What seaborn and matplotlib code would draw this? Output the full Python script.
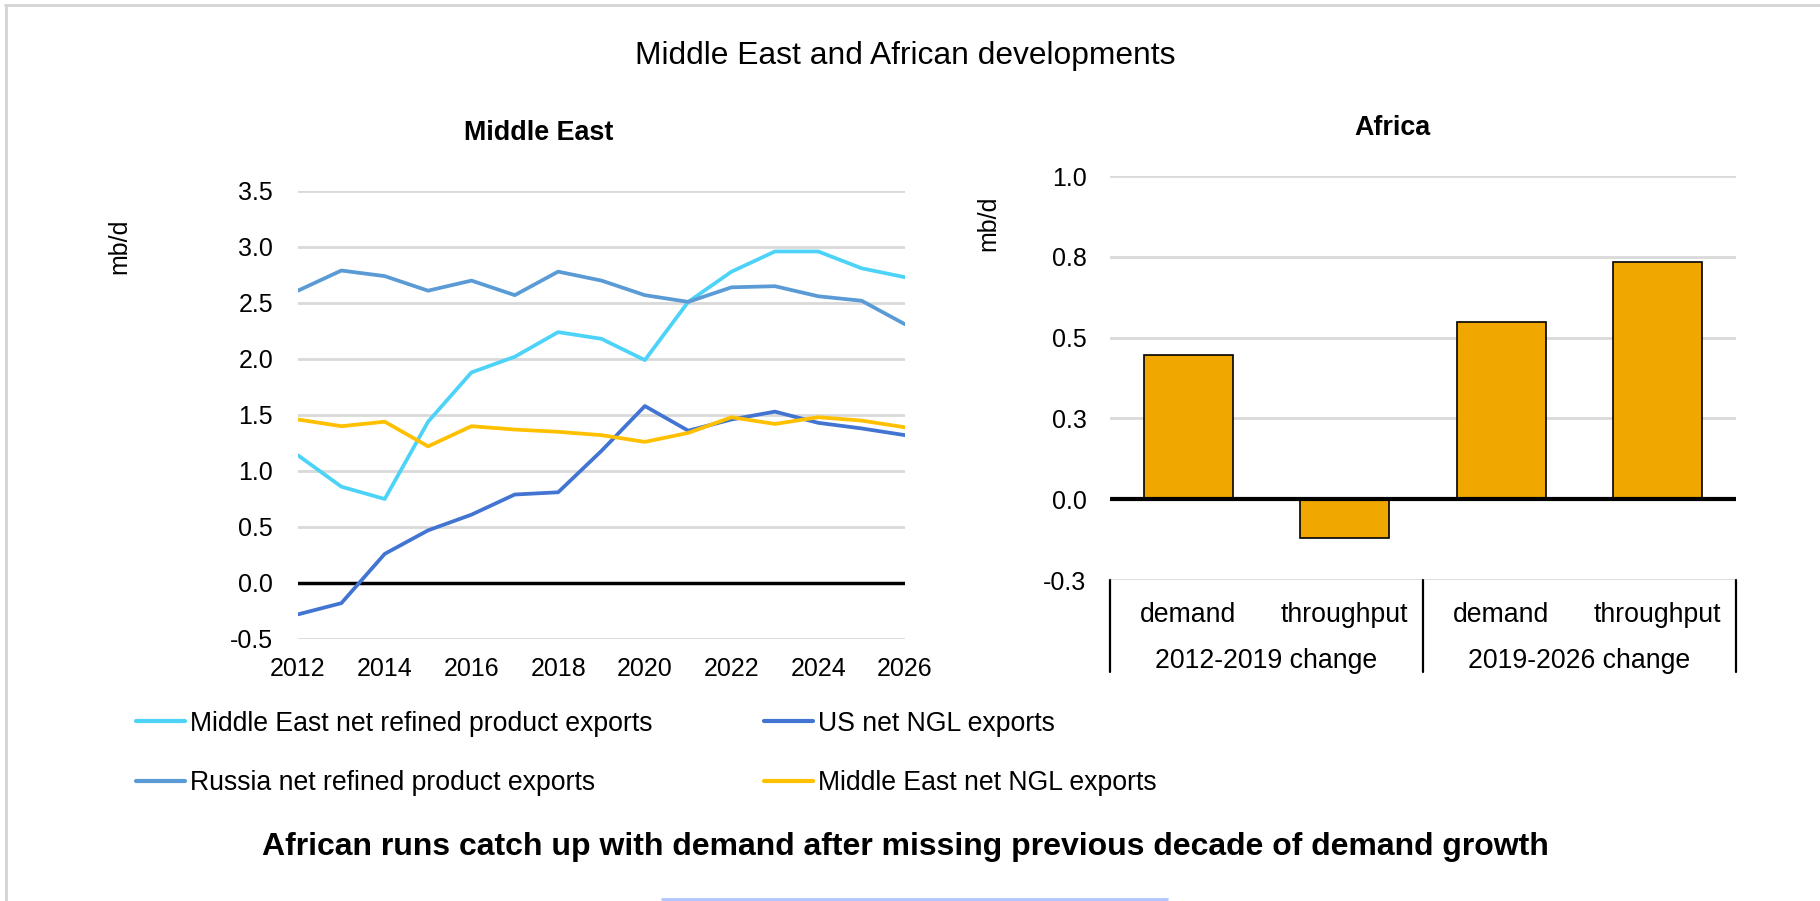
import matplotlib
matplotlib.use("Agg")
import matplotlib.pyplot as plt
import matplotlib.transforms as mtransforms
from matplotlib.lines import Line2D
import numpy as np
import pandas as pd
import seaborn as sns

# ---------------- data ----------------
years = list(range(2012, 2027))
me_refined = [1.14, 0.86, 0.75, 1.44, 1.88, 2.02, 2.24, 2.18, 1.99, 2.51, 2.78, 2.96, 2.96, 2.81, 2.73]
us_ngl = [-0.28, -0.18, 0.26, 0.47, 0.61, 0.79, 0.81, 1.18, 1.58, 1.36, 1.46, 1.53, 1.43, 1.38, 1.32]
russia_refined = [2.61, 2.79, 2.74, 2.61, 2.70, 2.57, 2.78, 2.70, 2.57, 2.51, 2.64, 2.65, 2.56, 2.52, 2.31]
me_ngl = [1.46, 1.40, 1.44, 1.22, 1.40, 1.37, 1.35, 1.32, 1.26, 1.34, 1.48, 1.42, 1.48, 1.45, 1.39]

series_names = ["Middle East net refined product exports", "US net NGL exports",
                "Russia net refined product exports", "Middle East net NGL exports"]
series_values = [me_refined, us_ngl, russia_refined, me_ngl]
series_colors = ["#4DD2F8", "#4274D2", "#5B9BD5", "#FFC000"]

left_yticks = [-0.5, 0.0, 0.5, 1.0, 1.5, 2.0, 2.5, 3.0, 3.5]
left_xticks = [2012, 2014, 2016, 2018, 2020, 2022, 2024, 2026]

africa_periods = ["2012-2019 change", "2012-2019 change", "2019-2026 change", "2019-2026 change"]
africa_items = ["demand", "throughput", "demand", "throughput"]
africa_values = [0.445, -0.12, 0.548, 0.735]
right_yticks = [-0.25, 0.0, 0.25, 0.5, 0.75, 1.0]
right_ytick_labels = ["-0.3", "0.0", "0.3", "0.5", "0.8", "1.0"]
period_labels = ["2012-2019 change", "2019-2026 change"]

# ---------------- style ----------------
sns.set_theme(style="white")
plt.rcParams["font.family"] = ["Liberation Sans", "DejaVu Sans"]
plt.rcParams["text.color"] = "black"
plt.rcParams["xtick.color"] = "black"
plt.rcParams["ytick.color"] = "black"
plt.rcParams["axes.labelcolor"] = "black"

W, H = 1820, 901
fig = plt.figure(figsize=(W / 100, H / 100), dpi=100)
fig.patch.set_facecolor("white")


def rect(x0, y0, x1, y1):
    return [x0 / W, 1 - y1 / H, (x1 - x0) / W, (y1 - y0) / H]


def fx(x):
    return x / W


def fy(y):
    return 1 - y / H


TICK = 18
LABEL = 19.2
GRID = "#D9D9D9"

# ---------------- left: Middle East lines ----------------
ax1 = fig.add_axes(rect(298, 191, 905, 639))
df = pd.concat([pd.DataFrame({"year": years, "value": v, "series": n})
                for n, v in zip(series_names, series_values)], ignore_index=True)
for t in left_yticks:
    ax1.axhline(t, color=GRID, lw=2, zorder=0)
ax1.axhline(0, color="black", lw=2.5, zorder=1)
sns.lineplot(data=df, x="year", y="value", hue="series", hue_order=series_names,
             palette=series_colors, linewidth=2.7, legend=False, ax=ax1, zorder=3)
ax1.set_xlim(2012, 2026)
ax1.set_ylim(-0.5, 3.5)
ax1.set_yticks(left_yticks)
ax1.set_yticklabels([f"{t:.1f}" for t in left_yticks])
ax1.set_xticks(left_xticks)
ax1.set_xticklabels([str(t) for t in left_xticks])
ax1.tick_params(axis="y", length=0, pad=18, labelsize=TICK)
ax1.tick_params(axis="x", length=0, pad=13, labelsize=TICK)
ax1.set_xlabel("")
ax1.set_ylabel("")
for s in ax1.spines.values():
    s.set_visible(False)

# ---------------- right: Africa bars ----------------
ax2 = fig.add_axes(rect(1110, 176, 1736, 580))
bdf = pd.DataFrame({"key": [f"{p}|{i}" for p, i in zip(africa_periods, africa_items)],
                    "value": africa_values})
for t in right_yticks:
    ax2.axhline(t, color=GRID, lw=2, zorder=0)
sns.barplot(data=bdf, x="key", y="value", color="#F0A800", edgecolor="black",
            linewidth=1.2, width=0.57, errorbar=None, saturation=1, ax=ax2, zorder=2)
ax2.axhline(0, color="black", lw=3, zorder=3)
ax2.set_xlim(-0.5, 3.5)
ax2.set_ylim(-0.25, 1.0)
ax2.set_yticks(right_yticks)
ax2.set_yticklabels(right_ytick_labels)
ax2.set_xticks([])
ax2.tick_params(axis="y", length=0, pad=17, labelsize=TICK)
ax2.set_xlabel("")
ax2.set_ylabel("")
for s in ax2.spines.values():
    s.set_visible(False)

trans = mtransforms.blended_transform_factory(ax2.transData, ax2.transAxes)
for xs in [-0.5, 1.5, 3.5]:
    ax2.plot([xs, xs], [0, -0.228], transform=trans, color="black", lw=1.6, clip_on=False)
for i, item in enumerate(africa_items):
    ax2.text(i, -0.087, item, transform=trans, ha="center", va="center", fontsize=LABEL)
for j, p in enumerate(period_labels):
    ax2.text(0.5 + 2 * j, -0.2, p, transform=trans, ha="center", va="center", fontsize=LABEL)

# ---------------- texts ----------------
fig.text(fx(905), fy(56), "Middle East and African developments", ha="center", va="center", fontsize=22.9)
fig.text(fx(539), fy(133), "Middle East", ha="center", va="center", fontsize=19.4, fontweight="bold")
fig.text(fx(1392), fy(128), "Africa", ha="center", va="center", fontsize=19.4, fontweight="bold")
fig.text(fx(119), fy(246), "mb/d", ha="center", va="center", rotation=90, fontsize=TICK)
fig.text(fx(988), fy(223), "mb/d", ha="center", va="center", rotation=90, fontsize=TICK)
fig.text(fx(905), fy(847), "African runs catch up with demand after missing previous decade of demand growth",
         ha="center", va="center", fontsize=23, fontweight="bold")

# ---------------- legend ----------------
handles = {n: Line2D([], [], color=c, lw=3) for n, c in zip(series_names, series_colors)}
cols = [[series_names[0], series_names[2]], [series_names[1], series_names[3]]]
for x0, names in zip([136, 764], cols):
    fig.legend([handles[n] for n in names], names, loc="center left",
               bbox_to_anchor=(fx(x0), fy(753.5)), frameon=False, fontsize=LABEL,
               handlelength=1.85, handletextpad=0.18, labelspacing=1.27,
               borderpad=0, borderaxespad=0)

# ---------------- frame decorations ----------------
fig.add_artist(Line2D([fx(5), 1], [fy(5), fy(5)], color="#D4D4D4", lw=2))
fig.add_artist(Line2D([fx(6), fx(6)], [fy(5), 0], color="#D4D4D4", lw=2))
fig.add_artist(Line2D([fx(662), fx(1167)], [fy(899), fy(899)], color="#AFC4FF", lw=2))

fig.savefig("out.png", dpi=100, facecolor="white")
